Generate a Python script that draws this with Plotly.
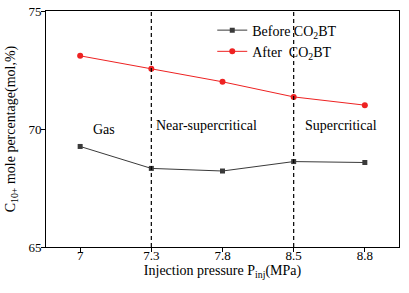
import plotly.graph_objects as go

categories = ["7", "7.3", "7.8", "8.5", "8.8"]
before = [69.26, 68.33, 68.22, 68.62, 68.58]
after = [73.1, 72.55, 72.0, 71.36, 71.01]
region_labels = ["Gas", "Near-supercritical", "Supercritical"]
region_x = [0.34, 1.77, 3.67]
region_y = [70.0, 70.16, 70.16]
boundaries = [1, 3]
y_ticks = [65, 70, 75]

FONT = "Liberation Serif"
fig = go.Figure()
fig.add_trace(go.Scatter(
    x=list(range(len(categories))), y=before, mode="lines+markers",
    name="Before CO<sub>2</sub>BT",
    line=dict(color="#3a3a3a", width=1),
    marker=dict(symbol="square", size=5, color="#3a3a3a")))
fig.add_trace(go.Scatter(
    x=list(range(len(categories))), y=after, mode="lines+markers",
    name="After  CO<sub>2</sub>BT",
    line=dict(color="#ee2222", width=1),
    marker=dict(symbol="circle", size=6, color="#ee2222")))

for b in boundaries:
    fig.add_shape(type="line", x0=b, x1=b, y0=0, y1=1, yref="paper",
                  line=dict(color="black", width=1.2, dash="4px,3px"))

for t, xx, yy in zip(region_labels, region_x, region_y):
    fig.add_annotation(x=xx, y=yy, text=t, showarrow=False, xanchor="center",
                       font=dict(family=FONT, size=14, color="black"))

fig.update_layout(
    width=409, height=293,
    margin=dict(l=46, r=10, t=11, b=46),
    paper_bgcolor="white", plot_bgcolor="white",
    font=dict(family=FONT, size=13, color="black"),
    showlegend=True,
    legend=dict(x=0.471, y=0.985, xanchor="left", yanchor="top",
                bgcolor="rgba(0,0,0,0)", font=dict(family=FONT, size=14),
                tracegroupgap=0, itemwidth=30),
    xaxis=dict(tickmode="array", tickvals=list(range(len(categories))),
               ticktext=categories, range=[-0.48, 4.48], automargin=False,
               showline=True, linecolor="black", linewidth=1, mirror=True,
               ticks="outside", ticklen=4, tickcolor="black", showgrid=False,
               zeroline=False, ticklabelstandoff=-8,
               title=dict(text="Injection pressure P<sub>inj</sub>(MPa)", standoff=2,
                          font=dict(family=FONT, size=14))),
    yaxis=dict(range=[65, 75], tickvals=y_ticks, automargin=False,
               showline=True, linecolor="black", linewidth=1, mirror=True,
               ticks="outside", ticklen=4, tickcolor="black", showgrid=False,
               zeroline=False, ticklabelstandoff=-3,
               title=dict(text="C<sub>10+</sub> mole percentage(mol,%)", standoff=9,
                          font=dict(family=FONT, size=14))),
)
# remove the page's default 8px body margin so the figure fills the window
fig.write_html("out.html", config={"displayModeBar": False},
               post_script="document.body.style.margin='0';")
